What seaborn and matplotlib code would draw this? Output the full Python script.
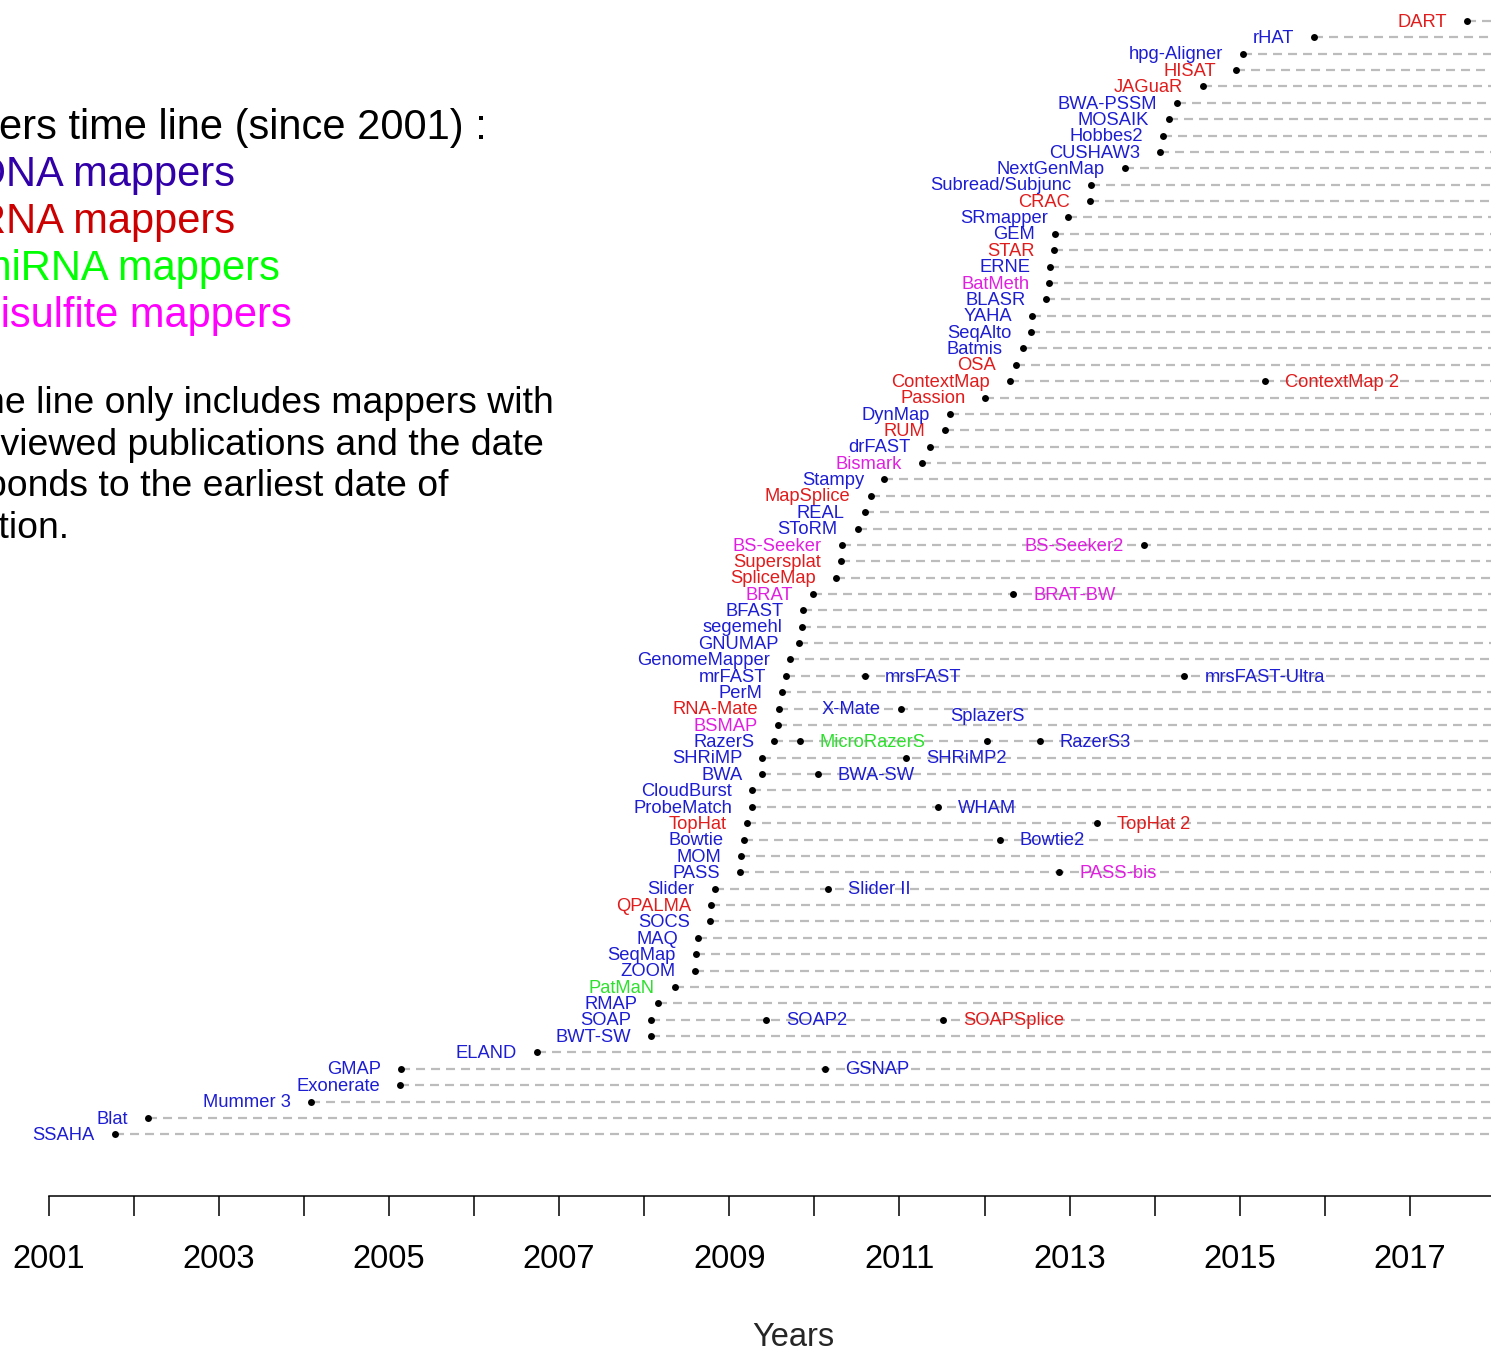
import matplotlib
matplotlib.use("Agg")
import matplotlib.pyplot as plt
import numpy as np
import pandas as pd
import seaborn as sns

# ---- data -------------------------------------------------------------
# Mappers ordered from the earliest to the most recent first publication
mapper_names = [
    "SSAHA", "Blat", "Mummer 3", "Exonerate", "GMAP", "ELAND", "BWT-SW",
    "SOAP", "RMAP", "PatMaN", "ZOOM", "SeqMap", "MAQ", "SOCS", "QPALMA",
    "Slider", "PASS", "MOM", "Bowtie", "TopHat", "ProbeMatch", "CloudBurst",
    "BWA", "SHRiMP", "RazerS", "BSMAP", "RNA-Mate", "PerM", "mrFAST",
    "GenomeMapper", "GNUMAP", "segemehl", "BFAST", "BRAT", "SpliceMap",
    "Supersplat", "BS-Seeker", "SToRM", "REAL", "MapSplice", "Stampy",
    "Bismark", "drFAST", "RUM", "DynMap", "Passion", "ContextMap", "OSA",
    "Batmis", "SeqAlto", "YAHA", "BLASR", "BatMeth", "ERNE", "STAR", "GEM",
    "SRmapper", "CRAC", "Subread/Subjunc", "NextGenMap", "CUSHAW3",
    "Hobbes2", "MOSAIK", "BWA-PSSM", "JAGuaR", "HISAT", "hpg-Aligner",
    "rHAT", "DART",
]
mapper_years = [
    2001.78, 2002.17, 2004.08, 2005.13, 2005.14, 2006.74, 2008.08,
    2008.08, 2008.16, 2008.36, 2008.60, 2008.61, 2008.63, 2008.77, 2008.79,
    2008.83, 2009.13, 2009.14, 2009.17, 2009.21, 2009.27, 2009.27,
    2009.39, 2009.39, 2009.53, 2009.57, 2009.58, 2009.62, 2009.67,
    2009.71, 2009.82, 2009.86, 2009.87, 2009.98, 2010.26,
    2010.31, 2010.32, 2010.51, 2010.59, 2010.66, 2010.82,
    2011.26, 2011.36, 2011.54, 2011.59, 2012.01, 2012.30, 2012.37,
    2012.45, 2012.55, 2012.56, 2012.72, 2012.76, 2012.77, 2012.82, 2012.83,
    2012.98, 2013.24, 2013.25, 2013.65, 2014.06,
    2014.10, 2014.17, 2014.26, 2014.57, 2014.96, 2015.04,
    2015.87, 2017.67,
]
mapper_types = [
    "DNA", "DNA", "DNA", "DNA", "DNA", "DNA", "DNA",
    "DNA", "DNA", "miRNA", "DNA", "DNA", "DNA", "DNA", "RNA",
    "DNA", "DNA", "DNA", "DNA", "RNA", "DNA", "DNA",
    "DNA", "DNA", "DNA", "Bisulfite", "RNA", "DNA", "DNA",
    "DNA", "DNA", "DNA", "DNA", "Bisulfite", "RNA",
    "RNA", "Bisulfite", "DNA", "DNA", "RNA", "DNA",
    "Bisulfite", "DNA", "RNA", "DNA", "RNA", "RNA", "RNA",
    "DNA", "DNA", "DNA", "DNA", "Bisulfite", "DNA", "RNA", "DNA",
    "DNA", "RNA", "DNA", "DNA", "DNA",
    "DNA", "DNA", "DNA", "RNA", "RNA", "DNA",
    "DNA", "RNA",
]

# Later versions, drawn on the line of the mapper they derive from
update_names = [
    "GSNAP", "SOAP2", "SOAPSplice", "Slider II", "PASS-bis", "Bowtie2",
    "TopHat 2", "WHAM", "BWA-SW", "SHRiMP2", "MicroRazerS", "SplazerS",
    "RazerS3", "X-Mate", "mrsFAST", "mrsFAST-Ultra", "BRAT-BW",
    "BS-Seeker2", "ContextMap 2",
]
update_parents = [
    "GMAP", "SOAP", "SOAP", "Slider", "PASS", "Bowtie",
    "TopHat", "ProbeMatch", "BWA", "SHRiMP", "RazerS", "RazerS",
    "RazerS", "RNA-Mate", "mrFAST", "mrFAST", "BRAT",
    "BS-Seeker", "ContextMap",
]
update_years = [
    2010.13, 2009.43, 2011.51, 2010.16, 2012.88, 2012.18,
    2013.32, 2011.45, 2010.04, 2011.08, 2009.83, 2012.03,
    2012.65, 2011.02, 2010.59, 2014.35, 2012.34,
    2013.87, 2015.30,
]
update_types = [
    "DNA", "DNA", "RNA", "DNA", "Bisulfite", "DNA",
    "RNA", "DNA", "DNA", "DNA", "miRNA", "DNA",
    "DNA", "DNA", "DNA", "DNA", "Bisulfite",
    "Bisulfite", "RNA",
]

year_ticks = list(range(2001, 2018))

# ---- styling ------------------------------------------------------------
label_colors = {"DNA": "#1d1dd2", "RNA": "#e01c1c",
                "miRNA": "#2ee02e", "Bisulfite": "#e020e0"}
legend_colors = {"DNA": "#3200a8", "RNA": "#cc0000",
                 "miRNA": "#00ff00", "Bisulfite": "#ff00ff"}
# where the name of a later version sits relative to its dot
update_side = {"X-Mate": "left", "BS-Seeker2": "left", "SplazerS": "above"}

sns.set_theme(style="white")
plt.rcParams["font.family"] = ["Liberation Sans", "DejaVu Sans"]
plt.rcParams["lines.scale_dashes"] = False

W, H, DPI = 1491, 1354, 100
fig = plt.figure(figsize=(W / DPI, H / DPI), dpi=DPI)
ax_bottom = (H - 1196) / H
ax = fig.add_axes([0, ax_bottom, 1, 1 - ax_bottom])

x_lo, x_hi = 2000.430, 2017.952
n = len(mapper_names)
rows = np.arange(1, n + 1)
row_of = dict(zip(mapper_names, rows))

main = pd.DataFrame({"name": mapper_names, "year": mapper_years,
                     "kind": mapper_types, "row": rows})
upd = pd.DataFrame({"name": update_names, "year": update_years,
                    "kind": update_types,
                    "row": [row_of[p] for p in update_parents]})

# dashed guide lines from each first publication to the right edge
ax.hlines(main["row"], main["year"], x_hi + 1, colors="#bcbcbc",
          linewidth=1.6, linestyles=[(0, (6.5, 4.3))], zorder=1)

dots = pd.concat([main, upd], ignore_index=True)
sns.scatterplot(data=dots, x="year", y="row", color="black", s=25,
                linewidth=0, legend=False, ax=ax, zorder=3)

FS = 13.2
for _, r in main.iterrows():
    ax.annotate(r["name"], (r["year"], r["row"]), xytext=(-14.4, -4.1),
                textcoords="offset points", ha="right", va="baseline",
                fontsize=FS, color=label_colors[r["kind"]], zorder=4)

for _, r in upd.iterrows():
    side = update_side.get(r["name"], "right")
    if side == "left":
        off, ha = (-14.4, -4.1), "right"
    elif side == "above":
        off, ha = (0, 14.3), "center"
    else:
        off, ha = (14.4, -4.1), "left"
    ax.annotate(r["name"], (r["year"], r["row"]), xytext=off,
                textcoords="offset points", ha=ha, va="baseline",
                fontsize=FS, color=label_colors[r["kind"]], zorder=4)

# ---- axes -----------------------------------------------------------------
ax.set_xlim(x_lo, x_hi)
ax.set_ylim(-2.769, 70.28)
ax.set_yticks([])
ax.set_xticks(year_ticks)
ax.set_xticklabels([str(y) if y % 2 else "" for y in year_ticks])
ax.tick_params(axis="x", length=14.4, width=1.1, direction="out",
               pad=20.5, labelsize=23.5, colors="black", bottom=True)
for s in ("left", "top", "right"):
    ax.spines[s].set_visible(False)
ax.spines["bottom"].set_bounds(2001, x_hi)
ax.spines["bottom"].set_linewidth(1.1)
ax.spines["bottom"].set_color("black")
ax.set_xlabel("")
ax.set_ylabel("")


def ftext(px, py, s, **kw):
    fig.text(px / W, 1 - py / H, s, **kw)


ftext(793, 1353.5, "Years", ha="center", va="bottom", fontsize=23.5)

# ---- legend block ---------------------------------------------------------
TS = 30
ftext(487, 139, "Mappers time line (since 2001) :", ha="right",
      va="baseline", fontsize=TS, color="black")
ftext(235, 186, "DNA mappers", ha="right", va="baseline", fontsize=TS,
      color=legend_colors["DNA"])
ftext(235, 233, "RNA mappers", ha="right", va="baseline", fontsize=TS,
      color=legend_colors["RNA"])
ftext(280, 280, "miRNA mappers", ha="right", va="baseline", fontsize=TS,
      color=legend_colors["miRNA"])
ftext(292, 327, "Bisulfite mappers", ha="right", va="baseline",
      fontsize=TS, color=legend_colors["Bisulfite"])

PS = 26.9
note = ["The time line only includes mappers with",
        "peer-reviewed publications and the date",
        "corresponds to the earliest date of",
        "publication."]
note_right = [554, 544, 449, 70]
for i, (line, xr) in enumerate(zip(note, note_right)):
    ftext(xr, 413 + i * 41.7, line, ha="right", va="baseline",
          fontsize=PS, color="black")

fig.savefig("out.png", dpi=DPI)
